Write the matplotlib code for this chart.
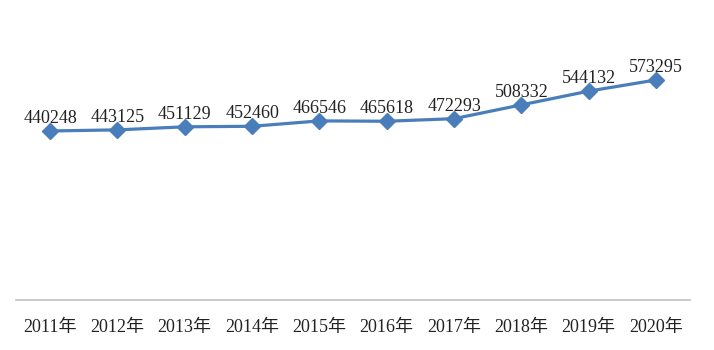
import matplotlib.pyplot as plt

plt.rcParams['font.family'] = ['Liberation Serif', 'Noto Sans CJK SC']

years = ['2011年', '2012年', '2013年', '2014年', '2015年',
         '2016年', '2017年', '2018年', '2019年', '2020年']
values = [440248, 443125, 451129, 452460, 466546,
          465618, 472293, 508332, 544132, 573295]

fig = plt.figure(figsize=(7.14, 3.5), dpi=100)
ax = fig.add_axes([0.023, 0.1434, 0.943, 0.767])

x = range(len(years))
ax.plot(x, values, color='#4a7ebb', linewidth=2.3, marker='D', markersize=8)

for i, v in zip(x, values):
    ax.annotate(str(v), (i, v), xytext=(0, 3), textcoords='offset points',
                ha='center', va='bottom', fontsize=13, color='#222222')

ax.set_xlim(-0.5, len(years) - 0.5)
ax.set_ylim(0, 700000)
ax.set_xticks(list(x))
ax.set_xticklabels(years, fontsize=13, color='#222222')
ax.tick_params(axis='x', length=0, pad=14)
ax.set_yticks([])
for s in ['top', 'right', 'left']:
    ax.spines[s].set_visible(False)
ax.spines['bottom'].set_color('#bfbfbf')
ax.spines['bottom'].set_linewidth(1.2)

fig.savefig('out.png', dpi=100)
